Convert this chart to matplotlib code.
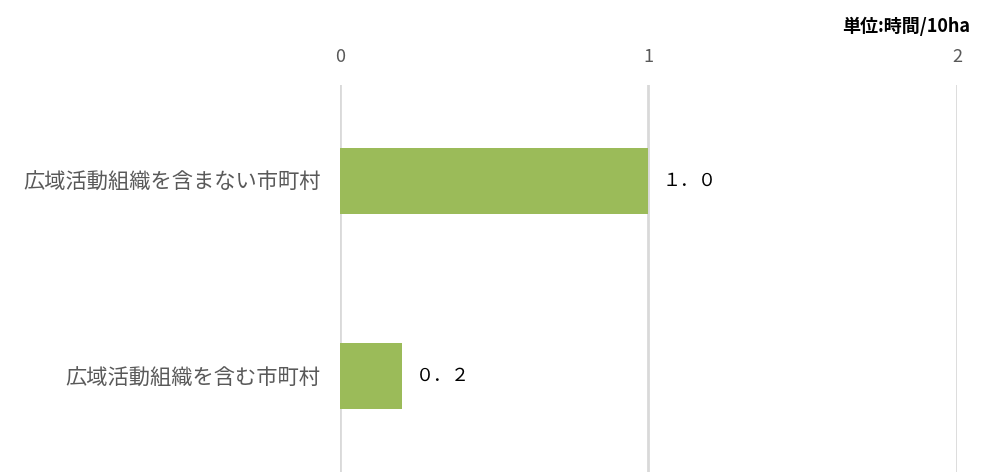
# -*- coding: utf-8 -*-
import matplotlib.pyplot as plt

plt.rcParams['font.family'] = ['Noto Sans CJK JP', 'DejaVu Sans']

categories = ['広域活動組織を含まない市町村', '広域活動組織を含む市町村']
hours = [1.0, 0.2]
x_ticks = [0, 1, 2]
unit_text = '単位:時間/10ha'

bar_color = '#9BBB59'
grid_color = '#D9D9D9'
label_color = '#595959'


def to_zenkaku(s):
  return s.translate(str.maketrans('0123456789.', '０１２３４５６７８９．'))


fig = plt.figure(figsize=(9.85, 4.72), dpi=100)
ax = fig.add_axes([0.345, 0.0, 0.6265, 0.82])

ypos = list(range(len(categories)))[::-1]
ax.barh(ypos, hours, height=0.34, color=bar_color, zorder=3)

for y, v in zip(ypos, hours):
  ax.text(v + 0.045, y, to_zenkaku('%.1f' % v), va='center', ha='left',
          fontsize=13, color='black')

ax.set_xlim(0, 2)
ax.set_ylim(-0.49, 1.49)
ax.set_xticks(x_ticks)
ax.set_xticklabels([str(t) for t in x_ticks], fontsize=13, color=label_color)
ax.xaxis.tick_top()
ax.tick_params(axis='x', length=0, pad=14)
ax.set_yticks(ypos)
ax.set_yticklabels(categories, fontsize=15.3, color=label_color)
ax.tick_params(axis='y', length=0, pad=14)

ax.grid(axis='x', color=grid_color, linewidth=2, zorder=0)
for s in ax.spines.values():
  s.set_visible(False)

fig.text(0.985, 0.945, unit_text, ha='right', va='center', fontsize=13,
         fontweight='bold', color='black')

fig.savefig('out.png', dpi=100)
